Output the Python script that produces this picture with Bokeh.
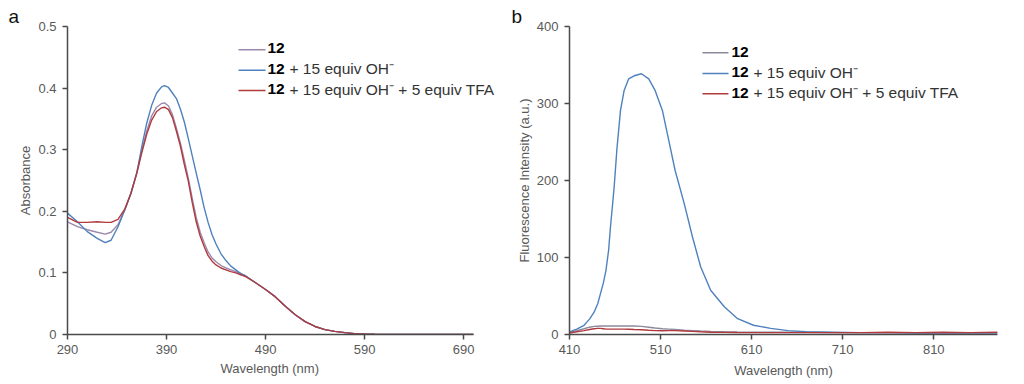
from bokeh.plotting import figure
from bokeh.layouts import row
from bokeh.models import FixedTicker, CustomJSTickFormatter, Label, Arrow, Range1d, Title
from bokeh.embed import file_html
from bokeh.resources import INLINE

# ---------------- data: panel a (absorbance) ----------------
wl_abs = [290, 300, 310, 320, 328, 334, 341, 348, 354, 360, 365, 370, 375, 380, 385,
          388, 392, 396, 400, 404, 408, 412, 416, 420, 424, 428, 432, 436, 440, 445,
          450, 455, 460, 465, 470, 480, 490, 500, 510, 520, 530, 540, 550, 560, 570,
          580, 590, 600, 650, 700]
abs_12 = [0.183, 0.175, 0.170, 0.166, 0.163, 0.166, 0.178, 0.203, 0.229, 0.263, 0.298,
          0.330, 0.355, 0.369, 0.375, 0.376, 0.371, 0.357, 0.335, 0.311, 0.283, 0.254,
          0.221, 0.190, 0.166, 0.149, 0.134, 0.124, 0.118, 0.112, 0.108, 0.105, 0.102,
          0.099, 0.095, 0.084, 0.073, 0.061, 0.046, 0.032, 0.021, 0.013, 0.008, 0.005,
          0.003, 0.0015, 0.0008, 0.0005, 0.0002, 0.0001]
abs_oh = [0.197, 0.183, 0.167, 0.156, 0.149, 0.153, 0.175, 0.203, 0.229, 0.262, 0.305,
          0.343, 0.372, 0.392, 0.402, 0.404, 0.401, 0.392, 0.383, 0.366, 0.345, 0.318,
          0.290, 0.262, 0.235, 0.206, 0.182, 0.162, 0.147, 0.131, 0.120, 0.111, 0.105,
          0.099, 0.095, 0.084, 0.073, 0.061, 0.046, 0.032, 0.021, 0.013, 0.008, 0.005,
          0.003, 0.0015, 0.0008, 0.0005, 0.0002, 0.0001]
abs_tfa = [0.190, 0.182, 0.182, 0.183, 0.182, 0.182, 0.187, 0.204, 0.229, 0.262, 0.295,
           0.325, 0.348, 0.362, 0.368, 0.369, 0.365, 0.352, 0.330, 0.306, 0.276, 0.249,
           0.214, 0.183, 0.160, 0.143, 0.128, 0.119, 0.113, 0.108, 0.105, 0.102, 0.100,
           0.097, 0.094, 0.084, 0.073, 0.061, 0.046, 0.032, 0.021, 0.013, 0.008, 0.005,
           0.003, 0.0015, 0.0008, 0.0005, 0.0002, 0.0001]

# ---------------- data: panel b (fluorescence) ----------------
wl_fl = [410, 418, 426, 432, 437, 441, 444, 447, 450, 453, 455, 457, 459, 462, 466,
         470, 475, 481, 489, 497, 504, 512, 519, 526, 536, 545, 554, 565, 580, 594,
         612, 631, 650, 670, 700, 730, 760, 790, 820, 850, 880]
fl_12 = [3, 5, 7.5, 9.5, 10.5, 10.8, 11, 11, 11, 11, 11, 11, 11, 11, 11, 11, 11, 11,
         10.5, 9.5, 8.5, 7.5, 7, 6.5, 5.5, 5, 4.5, 4, 3.5, 3.2, 3, 3, 3, 3, 2.5, 2.5,
         2.5, 2.5, 2.5, 2.5, 2.5]
fl_oh = [3.4, 7, 12, 20, 29, 40, 53, 66, 83, 110, 140, 165, 191, 240, 291, 317, 332,
         336, 338.6, 332, 317, 291, 252, 213, 170, 127, 88, 57.5, 36, 21, 12, 8, 5,
         3.5, 3, 2.5, 2.5, 2, 2, 2, 2]
fl_tfa = [2, 3.5, 5, 6.5, 7.5, 8, 8, 7.5, 7, 7, 7, 7, 7, 7, 7, 7, 6.8, 6.5, 6.2, 5.5,
          5, 4.8, 5, 5, 4.5, 4, 3.5, 3, 2.8, 2.6, 2.5, 2.5, 2.5, 2.5, 2.5, 2.5, 3, 2.5,
          3, 2.5, 3]

x_ticks_a = [290, 390, 490, 590, 690]
y_ticks_a = [0, 0.1, 0.2, 0.3, 0.4, 0.5]
x_ticks_b = [410, 510, 610, 710, 810]
y_ticks_b = [0, 100, 200, 300, 400]

series_names = ["12", "+ 15 equiv OH\u207b", "+ 15 equiv OH\u207b + 5 equiv TFA"]

FONT = "Liberation Sans"
AX = "#4a4a4a"
TXT = "#595959"
C_12A = "#9d88ad"
C_12B = "#8e8a9c"
C_OH = "#4f81bd"
C_TFA = "#b03a3d"


def style(p, letter, letter_offset):
    p.grid.visible = False
    p.outline_line_color = None
    p.background_fill_color = "white"
    p.border_fill_color = "white"
    for ax in (p.xaxis[0], p.yaxis[0]):
        ax.axis_line_color = AX
        ax.axis_line_width = 1.5
        ax.major_tick_line_color = AX
        ax.major_tick_line_width = 1.5
        ax.major_tick_out = 5
        ax.major_tick_in = 0
        ax.minor_tick_line_color = None
        ax.major_label_text_font = FONT
        ax.major_label_text_font_size = "13px"
        ax.major_label_text_color = TXT
        ax.axis_label_text_font = FONT
        ax.axis_label_text_font_size = "13px"
        ax.axis_label_text_font_style = "normal"
        ax.axis_label_text_color = TXT
    p.xaxis.major_label_standoff = 5
    p.xaxis.axis_label_standoff = 6
    p.yaxis.major_label_standoff = 6
    p.yaxis.axis_label_standoff = 2
    p.title.text = letter
    p.title.text_font = FONT
    p.title.text_font_size = "19px"
    p.title.text_font_style = "normal"
    p.title.text_color = "#111111"
    p.title.align = "left"
    p.title.offset = letter_offset
    p.title.standoff = 0


def legend(p, xs, xe, ys, tx, tys, colors):
    for y, ty, c, name in zip(ys, tys, colors, series_names):
        p.add_layout(Arrow(end=None, x_start=xs, x_end=xe, y_start=y, y_end=y,
                           line_color=c, line_width=1.5))
        p.add_layout(Label(x=tx, y=ty, x_units="canvas", y_units="canvas", text="12",
                           text_font=FONT, text_font_size="15.5px",
                           text_font_style="bold", text_color="black",
                           text_baseline="middle"))
        if name != "12":
            p.add_layout(Label(x=tx + 22, y=ty, x_units="canvas", y_units="canvas",
                               text=name, text_font=FONT, text_font_size="15.5px",
                               text_color="#333333", text_baseline="middle"))


# ---------------- panel a ----------------
pa = figure(width=508, height=384, output_backend="svg", toolbar_location=None,
            x_range=Range1d(290, 727.3), y_range=Range1d(0, 0.5),
            min_border_left=67, min_border_right=8, min_border_top=26,
            min_border_bottom=50)
style(pa, "a", -59)
pa.xaxis.bounds = (290, 700)
pa.xaxis.ticker = FixedTicker(ticks=x_ticks_a)
pa.yaxis.ticker = FixedTicker(ticks=y_ticks_a)
pa.yaxis.formatter = CustomJSTickFormatter(code="return tick === 0 ? '0' : tick.toFixed(1);")
pa.yaxis.axis_label = "Absorbance"
pa.add_layout(Title(text="Wavelength (nm)", align="left", offset=153,
                    vertical_align="top", standoff=8, text_font=FONT,
                    text_font_size="13px", text_font_style="normal",
                    text_color=TXT), "below")
pa.line(wl_abs, abs_12, line_color=C_12A, line_width=1.4)
pa.line(wl_abs, abs_oh, line_color=C_OH, line_width=1.4)
pa.line(wl_abs, abs_tfa, line_color=C_TFA, line_width=1.4)
legend(pa, 462.7, 490, [0.4622, 0.4291, 0.3962], 267, [47.5, 68, 88.5],
       [C_12A, C_OH, C_TFA])

# ---------------- panel b ----------------
pb = figure(width=516, height=384, output_backend="svg", toolbar_location=None,
            x_range=Range1d(410, 880), y_range=Range1d(0, 400),
            min_border_left=61, min_border_right=27, min_border_top=26,
            min_border_bottom=50)
style(pb, "b", -58)
pb.xaxis.ticker = FixedTicker(ticks=x_ticks_b)
pb.yaxis.ticker = FixedTicker(ticks=y_ticks_b)
pb.xaxis.axis_label = "Wavelength (nm)"
pb.yaxis.axis_label = "Fluorescence Intensity (a.u.)"
pb.line(wl_fl, fl_12, line_color=C_12B, line_width=1.4)
pb.line(wl_fl, fl_oh, line_color=C_OH, line_width=1.4)
pb.line(wl_fl, fl_tfa, line_color=C_TFA, line_width=1.4)
legend(pb, 556, 584.6, [366, 339, 312.6], 223, [51, 71.5, 92],
       [C_12B, C_OH, C_TFA])

layout = row(pa, pb)
open("out.html", "w").write(file_html(layout, INLINE))
